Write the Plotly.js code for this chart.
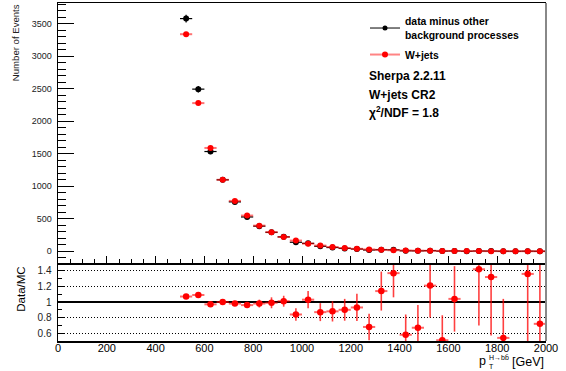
<!DOCTYPE html>
<html><head><meta charset="utf-8">
<script src="https://cdn.plot.ly/plotly-3.0.1.min.js"></script>
<style>html,body{margin:0;padding:0;background:#fff;overflow:hidden}</style>
</head><body><div id="chart" style="width:566px;height:371px"></div>
<script>
// bin centres of pT(H->bb) [GeV], 50 GeV bins
const binCenters = [525,575,625,675,725,775,825,875,925,975,1025,1075,1125,1175,1225,1275,1325,1375,1425,1475,1525,1575,1625,1675,1725,1775,1825,1875,1925,1975];
const binHalfWidth = 25;
// data minus other background processes
const dataValues = [3580,2495,1535,1100,760,528,387,292,222,139,122,77,58,45,35,20,25,23,7.5,6.7,9.7,3.1,5.2,1.0,4.3,3.3,1.1,0.5,1.8,0.7];
const dataErrors = [60,50,40,34,28,24,20,17,15,12,11,9,8,7,6,5,5,5,3,3,3,2,2,2,2,2,1.5,1.5,1.5,1];
// W+jets (Sherpa 2.2.11)
const mcValues = [3340,2280,1590,1100,775,550,395,295,220,165,118,88,66,50,38,29,22,17,13,10,8,6,5,4,3,2.5,2,1.6,1.3,1.0];
const mcErrors = [15,12,10,8,6,5,4,3.5,3,2.5,2,2,1.5,1.5,1.2,1,1,1,0.8,0.8,0.7,0.6,0.5,0.5,0.4,0.4,0.3,0.3,0.3,0.2];
// Data/MC ratio
const ratioValues = [1.07,1.09,0.97,1.00,0.98,0.96,0.98,0.99,1.01,0.84,1.03,0.87,0.88,0.90,0.93,0.68,1.14,1.37,0.58,0.67,1.21,0.51,1.04,null,1.42,1.32,0.54,null,1.36,0.72];
const ratioErrors = [0.01,0.01,0.012,0.015,0.025,0.03,0.05,0.07,0.07,0.08,0.11,0.115,0.13,0.14,0.175,0.17,0.25,0.31,0.26,0.29,0.41,0.32,0.42,0.5,0.72,0.75,0.5,0.5,0.9,0.8];
// labels
const legendData = "data minus other<br>background processes";
const legendMC = "W+jets";
const infoLines = ["Sherpa 2.2.11", "W+jets CR2", "χ<sup>2</sup>/NDF = 1.8"];

const FONT = "Liberation Sans, Arial, Helvetica, sans-serif";
const RED = "#ff0000";

const traces = [
  { // data, top panel
    x: binCenters, y: dataValues, xaxis: 'x2', yaxis: 'y', type: 'scatter', mode: 'markers',
    marker: {color: '#000', size: 6}, showlegend: false,
    error_x: {type: 'constant', value: binHalfWidth, color: '#000', thickness: 1.2, width: 0},
    error_y: {type: 'data', array: dataErrors, color: '#000', thickness: 1.2, width: 0}
  },
  { // MC, top panel
    x: binCenters, y: mcValues, xaxis: 'x2', yaxis: 'y', type: 'scatter', mode: 'markers',
    marker: {color: RED, size: 6}, showlegend: false,
    error_x: {type: 'constant', value: binHalfWidth, color: 'rgba(255,0,0,0.55)', thickness: 2, width: 0},
    error_y: {type: 'data', array: mcErrors, color: 'rgba(255,0,0,0.55)', thickness: 2, width: 0}
  },
  { // ratio
    x: binCenters, y: ratioValues, xaxis: 'x', yaxis: 'y2', type: 'scatter', mode: 'markers',
    marker: {color: RED, size: 6.5}, showlegend: false,
    error_x: {type: 'constant', value: binHalfWidth, color: 'rgba(255,0,0,0.6)', thickness: 2, width: 0},
    error_y: {type: 'data', array: ratioErrors, color: 'rgba(255,0,0,0.75)', thickness: 1.6, width: 0}
  },
  { // legend entries
    x: [null], y: [null], xaxis: 'x2', yaxis: 'y', type: 'scatter', mode: 'lines+markers',
    name: legendData, legendgroup: 'a',
    line: {color: '#000', width: 1}, marker: {color: '#000', size: 5}
  },
  {
    x: [null], y: [null], xaxis: 'x2', yaxis: 'y', type: 'scatter', mode: 'lines+markers',
    name: legendMC, legendgroup: 'b',
    line: {color: 'rgba(255,80,80,0.7)', width: 2}, marker: {color: RED, size: 6}
  }
];

const L = 58, R = 20, T = 3, B = 30, W = 566, H = 371;
const pw = W - L - R, ph = H - T - B;
const px = v => (v - L) / pw;
const py = v => (H - B - v) / ph;
const split = py(263);

const annotations = [
  {text: "Number of Events", textangle: -90, xref: 'paper', yref: 'paper', x: px(15.7), y: py(2),
   xanchor: 'center', yanchor: 'top', showarrow: false, font: {family: FONT, size: 9.6, color: '#222'}},
  {text: "Data/MC", textangle: -90, xref: 'paper', yref: 'paper', x: px(20.7), y: py(289),
   xanchor: 'center', yanchor: 'middle', showarrow: false, font: {family: FONT, size: 11.5, color: '#000'}},
  {text: "[GeV]", xref: 'paper', yref: 'paper', x: px(546), y: py(362), xanchor: 'right', yanchor: 'middle',
   showarrow: false, font: {family: FONT, size: 12.5, color: '#000'}},
  {text: "p", xref: 'paper', yref: 'paper', x: px(487.5), y: py(361), xanchor: 'right', yanchor: 'middle',
   showarrow: false, font: {family: FONT, size: 12.5, color: '#000'}},
  {text: "H→bb̄", xref: 'paper', yref: 'paper', x: px(487), y: py(357.5), xanchor: 'left', yanchor: 'middle',
   showarrow: false, font: {family: FONT, size: 7, color: '#000'}},
  {text: "T", xref: 'paper', yref: 'paper', x: px(487), y: py(366.5), xanchor: 'left', yanchor: 'middle',
   showarrow: false, font: {family: FONT, size: 7, color: '#000'}}
];
const infoY = [76, 94.7, 111.7];
infoLines.forEach((t, i) => annotations.push({
  text: "<b>" + t + "</b>", xref: 'paper', yref: 'paper', x: px(367), y: py(infoY[i]),
  xanchor: 'left', yanchor: 'middle', showarrow: false, font: {family: FONT, size: 12, color: '#000'}
}));

const layout = {
  width: W, height: H,
  margin: {l: L, r: R, t: T, b: B, pad: 0},
  paper_bgcolor: '#fff', plot_bgcolor: '#fff',
  font: {family: FONT, color: '#000'},
  showlegend: true,
  legend: {x: px(365), y: py(8), xanchor: 'left', yanchor: 'top', bgcolor: 'rgba(0,0,0,0)',
           borderwidth: 0, tracegroupgap: 2, itemwidth: 30,
           font: {family: FONT, size: 10.4, color: '#000', weight: 'bold'}},
  xaxis: {domain: [0, 1], anchor: 'y2', range: [0, 2000], dtick: 200, tick0: 0,
          showline: true, linecolor: '#000', linewidth: 1.5, ticks: '', showgrid: false, zeroline: false,
          ticklabelstandoff: -4,
          tickfont: {family: FONT, size: 11, color: '#000'}},
  xaxis2: {domain: [0, 1], anchor: 'y', range: [0, 2000], matches: 'x', dtick: 200, tick0: 0,
           showticklabels: false, showline: true, linecolor: '#000', linewidth: 1.5, mirror: true,
           ticks: 'inside', ticklen: 7, tickcolor: '#000', tickwidth: 1,
           minor: {dtick: 50, ticks: 'inside', ticklen: 4, tickcolor: '#000', tickwidth: 1},
           showgrid: false, zeroline: false},
  yaxis: {domain: [split, 1], anchor: 'x2', range: [-180, 3820], dtick: 500, tick0: 0,
          showline: true, linecolor: '#000', linewidth: 1.5,
          ticks: 'inside', ticklen: 16, tickcolor: '#000', tickwidth: 1,
          minor: {dtick: 100, ticks: 'inside', ticklen: 8, tickcolor: '#000', tickwidth: 1},
          showgrid: false, zeroline: false, ticklabelstandoff: 3,
          tickfont: {family: FONT, size: 9, color: '#222'}},
  yaxis2: {domain: [0, split], anchor: 'x', range: [0.5, 1.5], dtick: 0.2, tick0: 0.6,
           showline: true, linecolor: '#000', linewidth: 1.5,
           ticks: 'inside', ticklen: 7, tickcolor: '#000', tickwidth: 1,
           minor: {dtick: 0.1, ticks: 'inside', ticklen: 4, tickcolor: '#000', tickwidth: 1},
           showgrid: true, gridcolor: '#000', griddash: '1px,2px', gridwidth: 1, zeroline: false,
           ticklabelstandoff: 3,
           tickfont: {family: FONT, size: 10, color: '#222'}},
  shapes: [
    {type: 'line', xref: 'paper', yref: 'y2', x0: 0, x1: 1, y0: 1, y1: 1, line: {color: '#000', width: 2}, layer: 'below'},
    {type: 'line', xref: 'paper', yref: 'paper', x0: 1, x1: 1, y0: 0, y1: 1, line: {color: '#888', width: 2}}
  ],
  annotations: annotations
};

Plotly.newPlot('chart', traces, layout, {staticPlot: true, displayModeBar: false});
</script>
</body></html>
